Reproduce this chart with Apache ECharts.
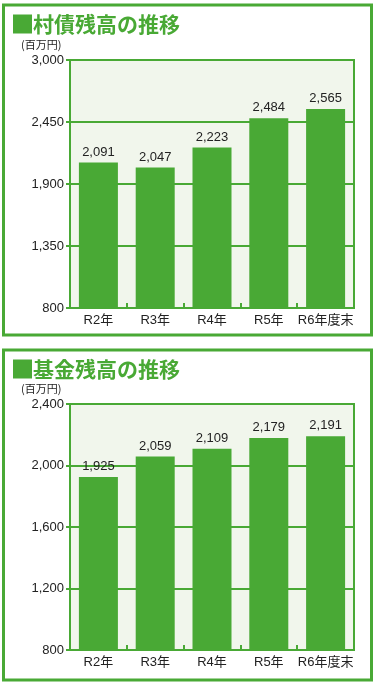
<!DOCTYPE html>
<html>
<head>
<meta charset="utf-8">
<script src="https://cdn.jsdelivr.net/npm/echarts@6/dist/echarts.min.js"></script>
<style>
html,body{margin:0;padding:0;background:#fff;}
#c{width:376px;height:686px;}
</style>
</head>
<body>
<div id="c"></div>
<script>
// ---- data ----
const categories = ['R2年', 'R3年', 'R4年', 'R5年', 'R6年度末'];
const debtValues = [2091, 2047, 2223, 2484, 2565];
const fundValues = [1925, 2059, 2109, 2179, 2191];
const debtTicks = [800, 1350, 1900, 2450, 3000];
const fundTicks = [800, 1200, 1600, 2000, 2400];
const title1 = '村債残高の推移';
const title2 = '基金残高の推移';
const unitLabel = '(百万円)';

// ---- style ----
const GREEN = '#49a935';
const BG = '#f1f6ec';
const TXT = '#222';
const FONT = "'Liberation Sans', 'Noto Sans CJK JP', sans-serif";
const fmt = v => String(v).replace(/\B(?=(\d{3})+(?!\d))/g, ',');

const chart = echarts.init(document.getElementById('c'), null, {renderer: 'canvas'});

function yAxis(idx, ticks) {
  return {
    type: 'value', gridIndex: idx,
    min: ticks[0], max: ticks[ticks.length - 1], interval: ticks[1] - ticks[0],
    axisLine: {show: true, lineStyle: {color: GREEN, width: 2}},
    axisTick: {show: true, length: 4, lineStyle: {color: GREEN, width: 2}},
    splitLine: {show: true, lineStyle: {color: GREEN, width: 2}},
    axisLabel: {color: TXT, fontSize: 13, fontFamily: FONT, margin: 6, formatter: v => fmt(v)}
  };
}
function xAxis(idx) {
  return {
    type: 'category', gridIndex: idx, data: categories,
    axisLine: {show: true, lineStyle: {color: GREEN, width: 2}},
    axisTick: {show: true, inside: true, length: 5, interval: 0, alignWithLabel: false, lineStyle: {color: GREEN, width: 2}},
    axisLabel: {color: TXT, fontSize: 13, fontFamily: FONT, margin: 6, interval: 0}
  };
}
function barSeries(idx, data) {
  return {
    type: 'bar', xAxisIndex: idx, yAxisIndex: idx, data: data,
    barWidth: 39,
    itemStyle: {color: GREEN},
    z: 3,
    label: {show: true, position: 'top', distance: 4, color: TXT, fontSize: 13, fontFamily: FONT,
      formatter: p => fmt(p.value)}
  };
}
function panel(y, h, title, titleY, unitY) {
  return [
    {type: 'rect', shape: {x: 3.5, y: y, width: 368, height: h},
     style: {fill: 'none', stroke: GREEN, lineWidth: 3}, z: 10},
    {type: 'rect', shape: {x: 13, y: titleY - 9.5, width: 19, height: 19},
     style: {fill: GREEN}, z: 10},
    {type: 'text', x: 33, y: titleY, z: 10,
     style: {text: title, fill: GREEN, font: "bold 21px 'Noto Sans CJK JP', sans-serif",
       textVerticalAlign: 'middle', verticalAlign: 'middle'}},
    {type: 'text', x: 21, y: unitY, z: 10,
     style: {text: unitLabel, fill: TXT, font: "11px 'Noto Sans CJK JP', sans-serif",
       textVerticalAlign: 'middle', verticalAlign: 'middle'}}
  ];
}

chart.setOption({
  animation: false,
  grid: [
    {left: 70, top: 60, right: 22, height: 248, show: true, backgroundColor: BG, borderColor: GREEN, borderWidth: 2, containLabel: false},
    {left: 70, top: 404, right: 22, height: 246, show: true, backgroundColor: BG, borderColor: GREEN, borderWidth: 2, containLabel: false}
  ],
  xAxis: [xAxis(0), xAxis(1)],
  yAxis: [yAxis(0, debtTicks), yAxis(1, fundTicks)],
  series: [barSeries(0, debtValues), barSeries(1, fundValues)],
  graphic: [].concat(panel(5, 330, title1, 24, 45), panel(350, 330, title2, 369, 389))
});
</script>
</body>
</html>
